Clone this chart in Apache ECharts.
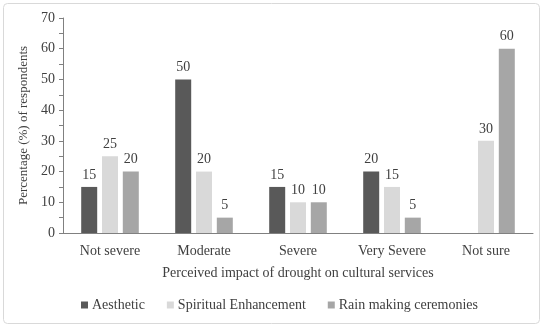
<!DOCTYPE html>
<html>
<head>
<meta charset="utf-8">
<script src="https://cdn.jsdelivr.net/npm/echarts@6/dist/echarts.min.js"></script>
<style>
html,body{margin:0;padding:0;background:#fff;}
#c{width:550px;height:327px;}
</style>
</head>
<body>
<div id="c"></div>
<script>
const categories = ['Not severe', 'Moderate', 'Severe', 'Very Severe', 'Not sure'];
const aesthetic = [15, 50, 15, 20, null];
const spiritual = [25, 20, 10, 15, 30];
const rainMaking = [20, 5, 10, 5, 60];
const seriesNames = ['Aesthetic', 'Spiritual Enhancement', 'Rain making ceremonies'];
const colors = ['#595959', '#d9d9d9', '#a6a6a6'];

const font = 'Liberation Serif, Times New Roman, serif';
const txt = '#404040';
const chart = echarts.init(document.getElementById('c'));
const mk = (name, data, color) => ({
  name, type: 'bar', data, barWidth: 16, barGap: '30%',
  itemStyle: { color },
  label: { show: true, position: 'top', distance: 5, color: txt, fontFamily: font, fontSize: 14 }
});
chart.setOption({
  animation: false,
  textStyle: { fontFamily: font },
  graphic: [{
    type: 'rect', shape: { x: 3.5, y: 3.5, width: 536, height: 320, r: 4 },
    style: { fill: 'none', stroke: '#d9d9d9', lineWidth: 1 }, z: -1
  }],
  grid: { left: 63, right: 17, top: 18, bottom: 94, containLabel: false },
  xAxis: {
    type: 'category', data: categories,
    name: 'Perceived impact of drought on cultural services',
    nameLocation: 'middle', nameGap: 33,
    nameTextStyle: { color: txt, fontFamily: font, fontSize: 14 },
    axisLine: { lineStyle: { color: '#808080' } },
    axisTick: { show: false },
    axisLabel: { color: txt, fontFamily: font, fontSize: 14, margin: 11 }
  },
  yAxis: {
    type: 'value', min: 0, max: 70, interval: 5,
    name: 'Percentage (%) of respondents',
    nameLocation: 'middle', nameGap: 30,
    nameTextStyle: { color: txt, fontFamily: font, fontSize: 13 },
    axisLine: { show: true, lineStyle: { color: '#808080' } },
    axisTick: { show: true, length: 4, lineStyle: { color: '#808080' } },
    splitLine: { show: false },
    axisLabel: { color: txt, fontFamily: font, fontSize: 14, margin: 8,
      formatter: v => (v % 10 === 0 ? String(v) : '') }
  },
  legend: {
    bottom: 10, left: 76, icon: 'rect', itemWidth: 7, itemHeight: 7, itemGap: 22,
    textStyle: { color: txt, fontFamily: font, fontSize: 14, padding: [0, 0, 0, -1] },
    data: seriesNames
  },
  series: [
    mk(seriesNames[0], aesthetic, colors[0]),
    mk(seriesNames[1], spiritual, colors[1]),
    mk(seriesNames[2], rainMaking, colors[2])
  ]
});
</script>
</body>
</html>
